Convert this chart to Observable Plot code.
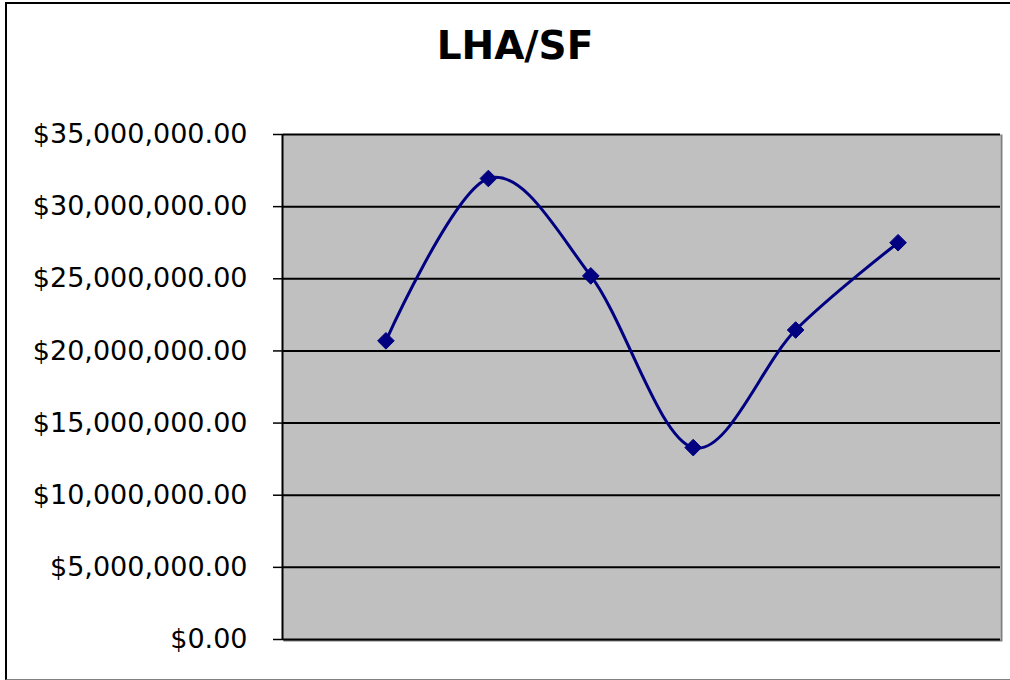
<!DOCTYPE html>
<html>
<head>
<meta charset="utf-8">
<script src="https://cdn.jsdelivr.net/npm/d3@7"></script>
<script src="https://cdn.jsdelivr.net/npm/@observablehq/plot@0.6"></script>
<style>
  html, body { margin: 0; padding: 0; background: #fff; }
  #wrap { position: relative; width: 1010px; height: 680px; overflow: hidden; font-family: "DejaVu Sans", Verdana, sans-serif; }
  #border { position: absolute; left: 5px; top: 2px; width: 1100px; height: 678px; box-sizing: border-box;
            border-left: 2px solid #000; border-top: 2px solid #000; border-bottom: 1px solid #808080; }
  #title { position: absolute; left: 0; width: 1030px; top: 23px; text-align: center;
           font-family: "DejaVu Sans", Verdana, sans-serif; font-weight: bold; font-size: 39px; color: #000; }
  #chart { position: absolute; left: 0; top: 0; }
  #chart svg text { font-size: 27px; }
</style>
</head>
<body>
<div id="wrap">
  <div id="border"></div>
  <div id="title">LHA/SF</div>
  <div id="chart"></div>
</div>
<script>
// Data
const categories = [1, 2, 3, 4, 5, 6];
const values = [20700000, 31950000, 25200000, 13300000, 21450000, 27500000];
const yTicks = [0, 5000000, 10000000, 15000000, 20000000, 25000000, 30000000, 35000000];

const data = categories.map((c, i) => ({x: c, y: values[i]}));
const fmt = d => "$" + d3.format(",.2f")(d);

const chart = Plot.plot({
  width: 1010,
  height: 680,
  marginLeft: 283,
  marginRight: 10,
  marginTop: 134,
  marginBottom: 41,
  style: {fontFamily: "'DejaVu Sans', Verdana, sans-serif", fontSize: "27px", color: "#000", background: "transparent", overflow: "visible"},
  x: {domain: [0, 7], axis: null},
  y: {domain: [0, 35000000], ticks: yTicks, tickFormat: fmt, tickSize: 10, tickPadding: 26, label: null},
  marks: [
    Plot.frame({fill: "#c0c0c0", stroke: "#808080", strokeWidth: 2, dx: 1, dy: 1}),
    Plot.frame({fill: "#c0c0c0", stroke: null}),
    Plot.ruleY(yTicks, {stroke: "#000", strokeWidth: 2}),
    Plot.ruleX([0], {stroke: "#000", strokeWidth: 2, dx: -1}),
    Plot.axisY({ticks: yTicks, tickFormat: fmt, tickSize: 10, tickPadding: 26, stroke: "#000", strokeWidth: 1.5, label: null, fontSize: 27}),
    Plot.line(data, {x: "x", y: "y", stroke: "#000080", strokeWidth: 3, curve: "cardinal", tension: 0}),
    Plot.dot(data, {x: "x", y: "y", symbol: "diamond2", r: 7.5, fill: "#000080", stroke: "#000080", strokeWidth: 1})
  ]
});
document.getElementById("chart").appendChild(chart);
</script>
</body>
</html>
